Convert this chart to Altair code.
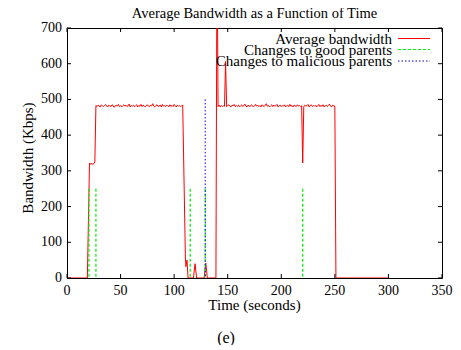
import altair as alt
import pandas as pd

# ---- data ----
start_t = [0, 19, 21, 22, 23, 24, 25, 26]
start_v = [0, 0, 322, 318, 322, 318, 320, 325]

plateau1_t = list(range(27, 109))
plateau1_v = [483, 480, 484, 481, 479, 485, 482, 480, 483, 486,
              481, 479, 484, 482, 480, 485, 483, 478, 482, 484,
              481, 486, 480, 483, 479, 482, 485, 481, 484, 480,
              482, 487, 479, 483, 481, 484, 480, 482, 485, 479,
              483, 481, 486, 480, 484, 482, 479, 483, 485, 481,
              480, 484, 482, 488, 481, 479, 483, 485, 480, 482,
              484, 479, 486, 481, 483, 480, 484, 482, 479, 485,
              481, 483, 480, 486, 482, 479, 484, 481, 483, 480,
              482, 484]

mid_t = [110.5, 111, 112, 113, 118, 119.5, 121, 128, 129.5, 131, 139, 140, 141]
mid_v = [56, 32, 50, 0, 0, 40, 0, 0, 42, 0, 0, 950, 480]

plateau2_t = list(range(142, 251))
plateau2_v = [484, 479, 483, 480, 482, 481,
              606,
              480, 483, 485, 481, 479, 484, 482, 486, 480, 483,
              481, 484, 479, 482, 485, 480, 483, 487, 481, 479,
              484, 482, 480, 485, 483, 479, 482, 486, 481, 484,
              480, 483, 479, 485, 482, 480, 484, 488, 481, 483,
              479, 482, 485, 480, 484, 481, 483, 486, 479, 482,
              484, 480, 483, 481, 485, 479, 482, 484, 480, 486,
              481, 483, 479, 484, 482, 480, 485, 481, 483, 480,
              482, 322, 480,
              484, 481, 483, 486, 479, 482, 485, 480, 483, 481,
              484, 479, 482, 486, 480, 483, 481, 485, 479, 482,
              484, 480, 483, 487, 481, 479, 484, 482, 481]

end_t = [251, 300]
end_v = [0, 0]

good_t = [20.5, 27, 115, 129, 220]
good_v = [250, 250, 250, 250, 250]
mal_t = [129]
mal_v = [500]

x_ticks = [0, 50, 100, 150, 200, 250, 300, 350]
y_ticks = [0, 100, 200, 300, 400, 500, 600, 700]

legend_labels = ["Average bandwidth", "Changes to good parents", "Changes to malicious parents"]
title_text = "Average Bandwidth as a Function of Time"
x_title = "Time (seconds)"
y_title = "Bandwidth (Kbps)"
panel_label = "(e)"

assert len(plateau1_t) == len(plateau1_v)
assert len(plateau2_t) == len(plateau2_v)

bw = pd.DataFrame({
    "t": start_t + plateau1_t + mid_t + plateau2_t + end_t,
    "v": start_v + plateau1_v + mid_v + plateau2_v + end_v,
})
good = pd.DataFrame({"t": good_t, "v": good_v})
mal = pd.DataFrame({"t": mal_t, "v": mal_v})
xt = pd.DataFrame({"t": x_ticks, "lab": [str(v) for v in x_ticks]})
yt = pd.DataFrame({"v": y_ticks, "lab": [str(v) for v in y_ticks]})

FONT = "'Times New Roman', 'Liberation Serif', 'DejaVu Serif', serif"
W, H = 375, 250
RED, GREEN, BLUE = "#ff0000", "#00ee00", "#0000ff"

xscale = alt.Scale(domain=[0, 350], nice=False, zero=False)
yscale = alt.Scale(domain=[0, 700], nice=False)

X = lambda: alt.X("t:Q", scale=xscale, axis=None)
Y = lambda: alt.Y("v:Q", scale=yscale, axis=None)


def label(text, x, y, size=15, align="center", baseline="alphabetic", angle=0):
    kw = dict(font=FONT, fontSize=size, align=align, baseline=baseline, color="black")
    if angle:
        kw["angle"] = angle
    return alt.Chart(pd.DataFrame({"label": [text]})).mark_text(**kw).encode(
        text="label:N", x=alt.value(x), y=alt.value(y))


line = alt.Chart(bw).mark_line(color=RED, strokeWidth=1, clip=True).encode(x=X(), y=Y())

good_rules = alt.Chart(good).mark_rule(color=GREEN, strokeWidth=1.2, strokeDash=[3, 2]).encode(
    x=X(), y=Y(), y2=alt.datum(0))
mal_rules = alt.Chart(mal).mark_rule(color=BLUE, strokeWidth=1, strokeDash=[1.5, 2]).encode(
    x=X(), y=Y(), y2=alt.datum(0))

# inward ticks on all four sides (gnuplot style)
tick_len = 4
xt_bottom = alt.Chart(xt).mark_rule(color="black", strokeWidth=1).encode(
    x=X(), y=alt.value(H), y2=alt.value(H - tick_len))
xt_top = alt.Chart(xt).mark_rule(color="black", strokeWidth=1).encode(
    x=X(), y=alt.value(0), y2=alt.value(tick_len))
yt_left = alt.Chart(yt).mark_rule(color="black", strokeWidth=1).encode(
    y=Y(), x=alt.value(0), x2=alt.value(tick_len))
yt_right = alt.Chart(yt).mark_rule(color="black", strokeWidth=1).encode(
    y=Y(), x=alt.value(W), x2=alt.value(W - tick_len))

# tick labels
x_labels = alt.Chart(xt).mark_text(font=FONT, fontSize=14, align="center", baseline="top",
                                   color="black").encode(
    x=X(), y=alt.value(H + 6), text="lab:N")
y_labels = alt.Chart(yt).mark_text(font=FONT, fontSize=14, align="right", baseline="middle",
                                   color="black").encode(
    y=Y(), x=alt.value(-5), text="lab:N")

# key (gnuplot style: text right-aligned, sample to the right)
key_layers = []
key_styles = [(RED, None), (GREEN, [3, 2]), (BLUE, [1.5, 2])]
text_y = [16, 27, 38]
line_y = [10.5, 21.5, 33]
for i, lab in enumerate(legend_labels):
    key_layers.append(label(lab, 325, text_y[i], size=15, align="right"))
    col, dash = key_styles[i]
    kw = dict(color=col, strokeWidth=1)
    if dash:
        kw["strokeDash"] = dash
    key_layers.append(
        alt.Chart(pd.DataFrame({"label": [lab]})).mark_rule(**kw).encode(
            x=alt.value(331), x2=alt.value(363), y=alt.value(line_y[i])))

ttl = label(title_text, W / 2, -10, size=14.5)
xttl = label(x_title, W / 2, H + 32, size=15)
yttl = label(y_title, -39, 130, size=15, baseline="middle", angle=270)
plab = label(panel_label, 159, 315, size=16)

chart = alt.layer(
    line, good_rules, mal_rules, xt_bottom, xt_top, yt_left, yt_right,
    x_labels, y_labels, *key_layers, ttl, xttl, yttl, plab
).properties(
    width=W, height=H,
    autosize=alt.AutoSizeParams(type="none"),
    padding={"left": 59, "top": 20, "right": 11, "bottom": 67},
).configure_view(
    stroke="black", strokeWidth=1
)

chart.save("out.html", embed_options={"renderer": "svg", "actions": False})
